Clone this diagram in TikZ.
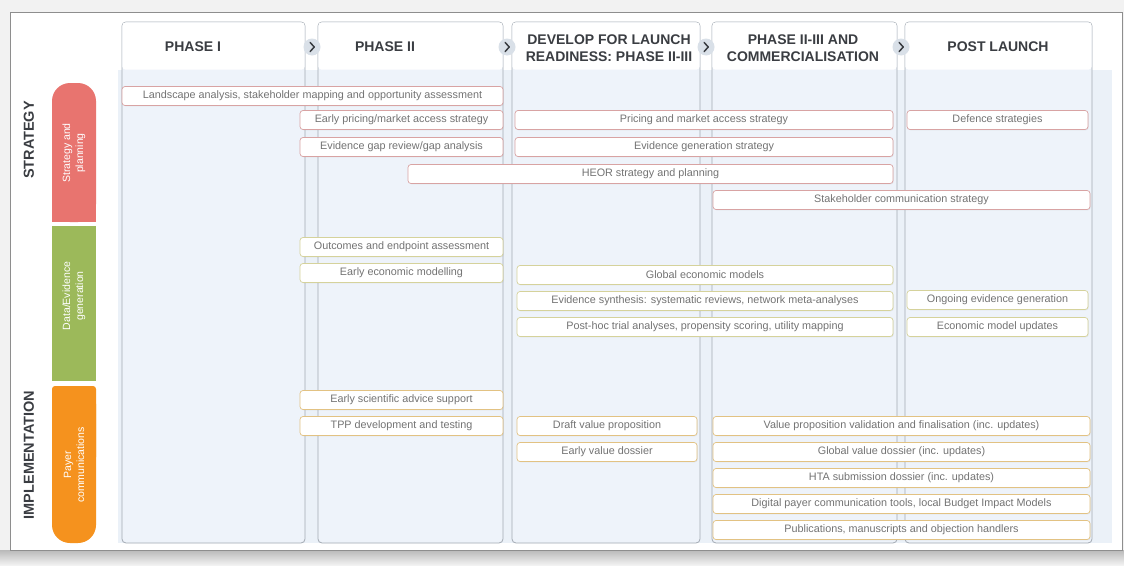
\documentclass[tikz,border=0pt]{standalone}
\usepackage{fontspec}
\setmainfont{Liberation Sans}
\usetikzlibrary{shadows}

\definecolor{outerbg}{HTML}{F2F2F2}
\definecolor{shadowgray}{HTML}{B9B9B9}
\definecolor{framegray}{HTML}{8E8E8E}
\definecolor{bandblue}{HTML}{EBF1F8}
\definecolor{colblue}{HTML}{EEF3FA}
\definecolor{colline}{HTML}{A3AAB3}
\definecolor{headtext}{HTML}{3A3D42}
\definecolor{chevfill}{HTML}{D9E0E8}
\definecolor{bartext}{HTML}{737373}
\definecolor{stratline}{HTML}{D8A3A3}
\definecolor{dataline}{HTML}{D5D29B}
\definecolor{payerline}{HTML}{E2C283}
\definecolor{stratred}{HTML}{E8746F}
\definecolor{datagreen}{HTML}{9CB95A}
\definecolor{payerorange}{HTML}{F5921E}

\begin{document}
\begin{tikzpicture}[x=1pt, y=-1pt,
    bar/.style={rectangle, draw, rounded corners=3pt, fill=white, minimum height=19pt, inner sep=0pt, line width=0.7pt, text=bartext, font=\fontsize{10.8}{12}\selectfont, drop shadow={opacity=0.12, shadow xshift=0.8pt, shadow yshift=-0.8pt}},
    stratbar/.style={bar, draw=stratline},
    databar/.style={bar, draw=dataline},
    payerbar/.style={bar, draw=payerline},
    phasecol/.style={rectangle, draw=colline, fill=colblue, rounded corners=4pt, line width=0.8pt, minimum height=521pt},
    phasehead/.style={align=center, text=headtext, font=\fontsize{14}{16.5}\selectfont\bfseries},
    chev/.style={circle, fill=chevfill, minimum size=17pt, inner sep=0pt},
    chevline/.style={draw=headtext, line width=1.5pt, line cap=round, line join=round},
    pilltext/.style={rotate=90, align=center, text=white, font=\fontsize{10.5}{13}\selectfont},
    sidelabel/.style={rotate=90, text=headtext, font=\fontsize{14.5}{16}\selectfont\bfseries}]

    \useasboundingbox (0,0) rectangle (1124,565);
    \fill[outerbg] (0,0) rectangle (1124,565);
    \shade[top color=shadowgray, bottom color=outerbg] (0,550) rectangle (1124,565);
    \fill[white, draw=framegray, line width=0.8pt] (10,12) rectangle (1122,550);
    \fill[bandblue] (118,70) rectangle (1112,543);

    % phase columns
    \node (col1) [phasecol, minimum width=183] at (213.5,282.5) {};
    \node (col2) [phasecol, minimum width=185] at (410.5,282.5) {};
    \node (col3) [phasecol, minimum width=188] at (606,282.5) {};
    \node (col4) [phasecol, minimum width=185] at (804.5,282.5) {};
    \node (col5) [phasecol, minimum width=187] at (998.5,282.5) {};
    \foreach \c in {col1,col2,col3,col4,col5}
        \fill[white, rounded corners=3pt] ([xshift=0.8pt,yshift=-0.8pt]\c.north west) rectangle ([xshift=-0.8pt,yshift=-48pt]\c.north east);

    \node (ph1) [phasehead] at (193,47) {PHASE I};
    \node (ph2) [phasehead] at (385,47) {PHASE II};
    \node (ph3) [phasehead] at (609,48) {DEVELOP FOR LAUNCH\\READINESS: PHASE II-III};
    \node (ph4) [phasehead] at (803,48) {PHASE II-III AND\\COMMERCIALISATION};
    \node (ph5) [phasehead] at (998,47) {POST LAUNCH};

    % chevrons between phases
    \node (ch1) [chev] at (312,47) {};
    \node (ch2) [chev] at (507,47) {};
    \node (ch3) [chev] at (706,47) {};
    \node (ch4) [chev] at (901,47) {};
    \foreach \c in {ch1,ch2,ch3,ch4}
        \draw[chevline] ([xshift=-1.8pt,yshift=4.5pt]\c.center) -- ([xshift=2.2pt]\c.center) -- ([xshift=-1.8pt,yshift=-4.5pt]\c.center);

    % side labels and pills
    \node (strat) [sidelabel] at (29,140) {STRATEGY};
    \node (impl) [sidelabel] at (29,455) {IMPLEMENTATION};
    \fill[stratred, rounded corners=18pt] (52,83) rectangle (96,222);
    \fill[stratred] (52,150) rectangle (96,222);
    \fill[datagreen] (52,226) rectangle (96,381);
    \fill[payerorange, rounded corners=18pt] (52,386) rectangle (96,543);
    \fill[payerorange, rounded corners=3pt] (52,386) rectangle (96,460);
    \node (pill1) [pilltext] at (74,153) {Strategy and\\planning};
    \node (pill2) [pilltext] at (74,296) {Data/Evidence\\generation};
    \node (pill3) [pilltext] at (74,465) {Payer\\communications};

    % strategy and planning
    \node (land) [stratbar, minimum width=381] at (312.5,96) {Landscape analysis, stakeholder mapping and opportunity assessment};
    \node (epma) [stratbar, minimum width=203] at (401.5,120) {Early pricing/market access strategy};
    \node (egap) [stratbar, minimum width=203] at (401.5,147) {Evidence gap review/gap analysis};
    \node (pma) [stratbar, minimum width=378] at (704,120) {Pricing and market access strategy};
    \node (egen) [stratbar, minimum width=378] at (704,147) {Evidence generation strategy};
    \node (heor) [stratbar, minimum width=485] at (650.5,174) {HEOR strategy and planning};
    \node (defence) [stratbar, minimum width=181] at (997.5,120) {Defence strategies};
    \node (stake) [stratbar, minimum width=377] at (901.5,200) {Stakeholder communication strategy};

    % data/evidence generation
    \node (outc) [databar, minimum width=203] at (401.5,247) {Outcomes and endpoint assessment};
    \node (eecon) [databar, minimum width=203] at (401.5,273) {Early economic modelling};
    \node (gecon) [databar, minimum width=376] at (705,275) {Global economic models};
    \node (synth) [databar, minimum width=376] at (705,301) {Evidence synthesis: systematic reviews, network meta-analyses};
    \node (posth) [databar, minimum width=376] at (705,327) {Post-hoc trial analyses, propensity scoring, utility mapping};
    \node (ongo) [databar, minimum width=181] at (997.5,300) {Ongoing evidence generation};
    \node (emupd) [databar, minimum width=181] at (997.5,327) {Economic model updates};

    % payer communications
    \node (sadv) [payerbar, minimum width=203] at (401.5,400) {Early scientific advice support};
    \node (tpp) [payerbar, minimum width=203] at (401.5,426) {TPP development and testing};
    \node (dvp) [payerbar, minimum width=180] at (607,426) {Draft value proposition};
    \node (evd) [payerbar, minimum width=180] at (607,452) {Early value dossier};
    \node (vpv) [payerbar, minimum width=377] at (901.5,426) {Value proposition validation and finalisation (inc. updates)};
    \node (gvd) [payerbar, minimum width=377] at (901.5,452) {Global value dossier (inc. updates)};
    \node (hta) [payerbar, minimum width=377] at (901.5,478) {HTA submission dossier (inc. updates)};
    \node (digi) [payerbar, minimum width=377] at (901.5,504) {Digital payer communication tools, local Budget Impact Models};
    \node (pubs) [payerbar, minimum width=377] at (901.5,530) {Publications, manuscripts and objection handlers};
\end{tikzpicture}
\end{document}
